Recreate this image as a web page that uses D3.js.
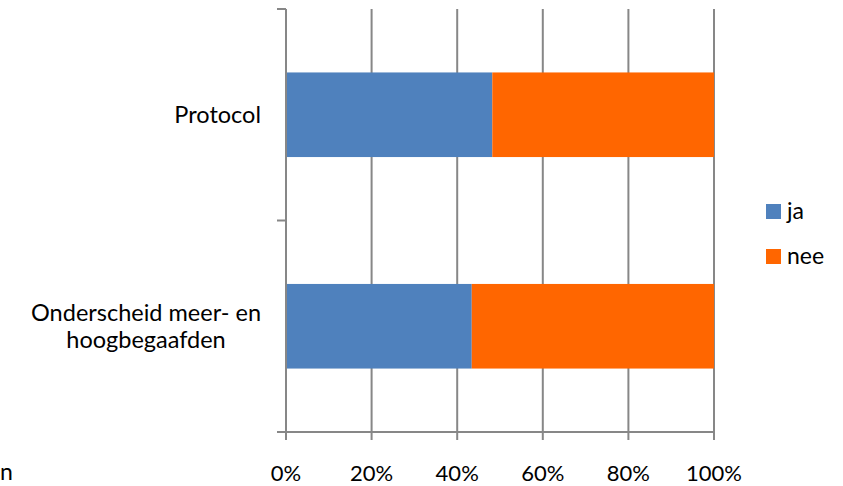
<!DOCTYPE html>
<html><head><meta charset="utf-8">
<script src="https://cdn.jsdelivr.net/npm/d3@7"></script>
<style>body{margin:0;background:#fff;} svg{display:block;}</style>
</head><body>
<svg id="c" width="843" height="486"></svg>
<script>
const categories = ["Protocol", "Onderscheid meer- en hoogbegaafden"];
const catLines = [["Protocol"], ["Onderscheid meer- en", "hoogbegaafden"]];
const seriesNames = ["ja", "nee"];
const jaValues = [48.2, 43.4];
const neeValues = [51.8, 56.6];
const tickValues = [0, 20, 40, 60, 80, 100];
const colors = ["#4F81BD", "#FF6600"];

(function () {
const svg = d3.select("#c");
const font = "Lato, 'Open Sans', sans-serif";
const pL = 286, pR = 714, pT = 9, pB = 432;
const gridCol = "#878787";
const x = d3.scaleLinear().domain([0, 100]).range([pL, pR]);
const y = d3.scaleBand().domain(categories).range([pT, pB]).paddingInner(0.6).paddingOuter(0.3);

svg.append("g").selectAll("line").data(tickValues.slice(1)).join("line")
  .attr("x1", d => x(d)).attr("x2", d => x(d)).attr("y1", pT).attr("y2", pB + 8)
  .attr("stroke", gridCol).attr("stroke-width", 2);

const data = categories.map((c, i) => ({cat: c, vals: [jaValues[i], neeValues[i]]}));
const stackData = data.map(d => {
  let acc = 0;
  return d.vals.map((v, k) => { const s = {cat: d.cat, x0: acc, x1: acc + v, k}; acc += v; return s; });
}).flat();
svg.append("g").selectAll("rect").data(stackData).join("rect")
  .attr("x", d => x(d.x0)).attr("width", d => x(d.x1) - x(d.x0))
  .attr("y", d => y(d.cat)).attr("height", y.bandwidth())
  .attr("fill", d => colors[d.k]);

svg.append("line").attr("x1", pL).attr("x2", pL).attr("y1", pT).attr("y2", pB + 8)
  .attr("stroke", gridCol).attr("stroke-width", 2);
svg.append("line").attr("x1", pL - 9).attr("x2", pR).attr("y1", pB).attr("y2", pB)
  .attr("stroke", gridCol).attr("stroke-width", 2);
const step = (pB - pT) / categories.length;
[0, 1, 2].forEach(i => {
  svg.append("line").attr("x1", pL - 9).attr("x2", pL)
    .attr("y1", pT + i * step).attr("y2", pT + i * step)
    .attr("stroke", gridCol).attr("stroke-width", 2);
});

svg.append("g").selectAll("text").data(tickValues).join("text")
  .attr("x", d => x(d)).attr("y", 481).attr("text-anchor", "middle")
  .attr("font-family", font).attr("font-size", 22).attr("fill", "#000")
  .text(d => d + "%");

categories.forEach((c, i) => {
  const lines = catLines[i];
  const cy = y(c) + y.bandwidth() / 2;
  const lh = 27;
  const g = svg.append("g");
  const ts = lines.map((ln, j) => g.append("text")
      .attr("y", cy + 8 + (j - (lines.length - 1) / 2) * lh)
      .attr("text-anchor", "middle").attr("font-family", font).attr("font-size", 23.5).attr("fill", "#000")
      .text(ln));
  const maxW = d3.max(ts, t => t.node().getComputedTextLength());
  ts.forEach(t => t.attr("x", 261 - maxW / 2));
});

svg.append("text").attr("x", 0).attr("y", 480).attr("font-family", font).attr("font-size", 23)
  .attr("fill", "#000").text("n");

seriesNames.forEach((s, i) => {
  const ly = 219 + i * 45;
  svg.append("rect").attr("x", 766).attr("y", ly - 15).attr("width", 15).attr("height", 15).attr("fill", colors[i]);
  svg.append("text").attr("x", 787).attr("y", ly).attr("font-family", font).attr("font-size", 23)
    .attr("fill", "#000").text(s);
});
})();
</script>
</body></html>
